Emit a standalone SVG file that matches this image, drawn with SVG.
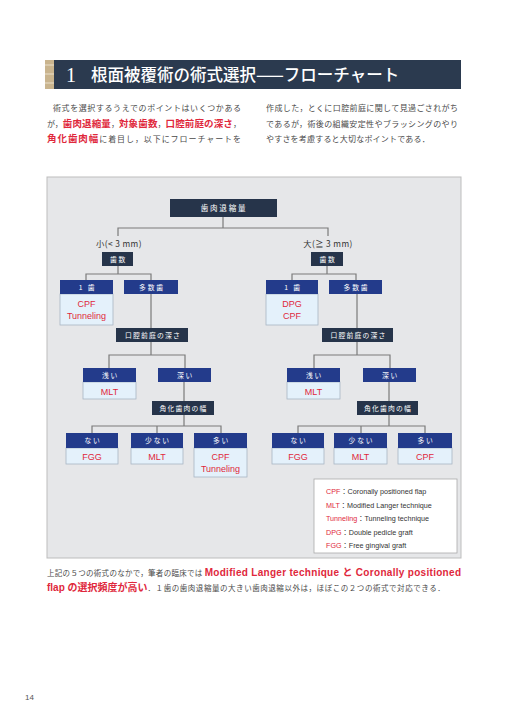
<svg xmlns="http://www.w3.org/2000/svg" width="509" height="720" viewBox="0 0 509 720">
<style>
text{font-family:"Noto Sans CJK JP","Noto Sans",sans-serif}
.para{font-size:8px;fill:#4a4a4a}
.red{fill:#e0283c;font-weight:bold;font-size:9.5px}
.dk{fill:#26344a}
.bl{fill:#233b8b}
.hd{font-size:6.8px;fill:#fff;text-anchor:middle;letter-spacing:1.8px}
.body{fill:#e4f1fb;stroke:#a9b6c4;stroke-width:0.8}
.bt{font-family:"Liberation Sans","Noto Sans",sans-serif;font-size:9px;fill:#e0283c;text-anchor:middle}
.lab{font-size:8.3px;fill:#333;text-anchor:middle;letter-spacing:0.4px}
.conn{fill:none;stroke:#7b7b7b;stroke-width:1.2}
.lg{font-family:"Liberation Sans","Noto Sans CJK JP",sans-serif;font-size:7.2px;fill:#333}
.lr{fill:#e0283c}
</style>
<rect width="509" height="720" fill="#fff"/>
<g id="header">
<rect x="45" y="60" width="9" height="29" fill="#c9b48e"/>
<line x1="45" y1="65" x2="54" y2="65" stroke="#eadfca" stroke-width="1"/>
<line x1="45" y1="74" x2="54" y2="74" stroke="#eadfca" stroke-width="1"/>
<line x1="45" y1="83" x2="54" y2="83" stroke="#eadfca" stroke-width="1"/>
<rect x="54" y="60" width="407" height="29" fill="#2b3a4f"/>
<text x="66" y="82" font-size="20" fill="#fff" style="font-family:'Liberation Serif',serif">1</text>
<text x="91" y="81" font-size="16.5" fill="#fff" font-weight="500">根面被覆術の術式選択——フローチャート</text>
</g>
<g id="intro">
<text class="para" x="53" y="111" textLength="188" lengthAdjust="spacing">術式を選択するうえでのポイントはいくつかある</text>
<text class="para" x="47" y="127" textLength="194" lengthAdjust="spacing">が，<tspan class="red">歯肉退縮量</tspan>，<tspan class="red">対象歯数</tspan>，<tspan class="red">口腔前庭の深さ</tspan>，</text>
<text class="para" x="47" y="142" textLength="194" lengthAdjust="spacing"><tspan class="red">角化歯肉幅</tspan>に着目し，以下にフローチャートを</text>
<text class="para" x="266" y="111" textLength="192" lengthAdjust="spacing">作成した，とくに口腔前庭に関して見過ごされがち</text>
<text class="para" x="266" y="127" textLength="192" lengthAdjust="spacing">であるが，術後の組織安定性やブラッシングのやり</text>
<text class="para" x="266" y="142" style="letter-spacing:0.2px">やすさを考慮すると大切なポイントである．</text>
</g>
<rect id="panel" x="47" y="177" width="414" height="381" fill="#e6e7e9" stroke="#bdbdbd" stroke-width="1"/>
<g id="connectors" class="conn">
<path d="M223,217 V228 M118,236 V228 H328 V236"/>
<path d="M118,266 V274 M86,280 V274 H151 V280"/>
<path d="M151,294 V328 M151,342 V355 M109,368 V355 H185 V368"/>
<path d="M184,382 V401 M184,415 V426 M92,433 V426 H221 V433 M157,426 V433"/>
<path d="M327,266 V274 M292,280 V274 H356 V280"/>
<path d="M357,294 V328 M357,342 V355 M314,368 V355 H390 V368"/>
<path d="M389,382 V401 M389,415 V426 M298,433 V426 H425 V433 M361,426 V433"/>
</g>
<g id="n-recession"><rect class="dk" x="170" y="199" width="107" height="18"/><text class="hd" x="224" y="211" style="font-size:7.5px">歯肉退縮量</text></g>
<g id="lbl-small"><text class="lab" x="119" y="247">小(&lt; 3 mm)</text></g>
<g id="lbl-large"><text class="lab" x="328" y="247">大(≧ 3 mm)</text></g>
<g id="n-teeth-l"><rect class="dk" x="102" y="252" width="31" height="14"/><text class="hd" x="118.5" y="261.5">歯数</text></g>
<g id="n-teeth-r"><rect class="dk" x="311" y="252" width="32" height="14"/><text class="hd" x="328" y="261.5">歯数</text></g>
<g id="n-one-l"><rect class="body" x="60" y="294" width="53" height="31"/><rect class="bl" x="60" y="280" width="53" height="14"/><text class="hd" x="87.5" y="289.5">1 歯</text><text class="bt" x="86.5" y="306.5">CPF</text><text class="bt" x="86.5" y="318.5">Tunneling</text></g>
<g id="n-multi-l"><rect class="bl" x="124" y="280" width="54" height="14"/><text class="hd" x="152" y="289.5">多数歯</text></g>
<g id="n-one-r"><rect class="body" x="266" y="294" width="52" height="31"/><rect class="bl" x="266" y="280" width="52" height="14"/><text class="hd" x="293" y="289.5">1 歯</text><text class="bt" x="292" y="306.5">DPG</text><text class="bt" x="292" y="318.5">CPF</text></g>
<g id="n-multi-r"><rect class="bl" x="329" y="280" width="53" height="14"/><text class="hd" x="356.5" y="289.5">多数歯</text></g>
<g id="n-vest-l"><rect class="dk" x="116" y="328" width="72" height="14"/><text class="hd" x="153" y="337.5" style="letter-spacing:1.2px">口腔前庭の深さ</text></g>
<g id="n-vest-r"><rect class="dk" x="322" y="328" width="71" height="14"/><text class="hd" x="358.5" y="337.5" style="letter-spacing:1.2px">口腔前庭の深さ</text></g>
<g id="n-shallow-l"><rect class="body" x="83" y="382" width="53" height="17"/><rect class="bl" x="83" y="368" width="53" height="14"/><text class="hd" x="110.5" y="377.5">浅い</text><text class="bt" x="109.5" y="394.5">MLT</text></g>
<g id="n-deep-l"><rect class="bl" x="158" y="368" width="53" height="14"/><text class="hd" x="185.5" y="377.5">深い</text></g>
<g id="n-shallow-r"><rect class="body" x="287" y="382" width="53" height="17"/><rect class="bl" x="287" y="368" width="53" height="14"/><text class="hd" x="314.5" y="377.5">浅い</text><text class="bt" x="313.5" y="394.5">MLT</text></g>
<g id="n-deep-r"><rect class="bl" x="363" y="368" width="53" height="14"/><text class="hd" x="390.5" y="377.5">深い</text></g>
<g id="n-kg-l"><rect class="dk" x="152" y="401" width="62" height="14"/><text class="hd" x="183.6" y="410.5" style="letter-spacing:1.2px">角化歯肉の幅</text></g>
<g id="n-kg-r"><rect class="dk" x="357" y="401" width="61" height="14"/><text class="hd" x="388.1" y="410.5" style="letter-spacing:1.2px">角化歯肉の幅</text></g>
<g id="n-none-l"><rect class="body" x="66" y="448" width="52" height="16"/><rect class="bl" x="66" y="433" width="52" height="15"/><text class="hd" x="93" y="443">ない</text><text class="bt" x="92" y="459.5">FGG</text></g>
<g id="n-few-l"><rect class="body" x="131" y="448" width="52" height="16"/><rect class="bl" x="131" y="433" width="52" height="15"/><text class="hd" x="158" y="443">少ない</text><text class="bt" x="157" y="459.5">MLT</text></g>
<g id="n-many-l"><rect class="body" x="194" y="448" width="53" height="29"/><rect class="bl" x="194" y="433" width="53" height="15"/><text class="hd" x="221.5" y="443">多い</text><text class="bt" x="220.5" y="459.5">CPF</text><text class="bt" x="220.5" y="471.5">Tunneling</text></g>
<g id="n-none-r"><rect class="body" x="272" y="448" width="52" height="16"/><rect class="bl" x="272" y="433" width="52" height="15"/><text class="hd" x="299" y="443">ない</text><text class="bt" x="298" y="459.5">FGG</text></g>
<g id="n-few-r"><rect class="body" x="334" y="448" width="53" height="16"/><rect class="bl" x="334" y="433" width="53" height="15"/><text class="hd" x="361.5" y="443">少ない</text><text class="bt" x="360.5" y="459.5">MLT</text></g>
<g id="n-many-r"><rect class="body" x="398" y="448" width="54" height="16"/><rect class="bl" x="398" y="433" width="54" height="15"/><text class="hd" x="426" y="443">多い</text><text class="bt" x="425" y="459.5">CPF</text></g>
<g id="legend">
<rect x="314" y="479" width="143" height="74" fill="#fff" stroke="#aaa" stroke-width="0.8"/>
<text class="lg" x="326" y="494"><tspan class="lr">CPF</tspan>：Coronally positioned flap</text>
<text class="lg" x="326" y="507.5"><tspan class="lr">MLT</tspan>：Modified Langer technique</text>
<text class="lg" x="326" y="521"><tspan class="lr">Tunneling</tspan>：Tunneling technique</text>
<text class="lg" x="326" y="534.5"><tspan class="lr">DPG</tspan>：Double pedicle graft</text>
<text class="lg" x="326" y="548"><tspan class="lr">FGG</tspan>：Free gingival graft</text>
</g>
<g id="summary">
<text class="para" x="47" y="576" textLength="414" lengthAdjust="spacing" style="font-size:7.5px">上記の５つの術式のなかで，筆者の臨床では <tspan class="red" style="font-family:'Liberation Sans','Noto Sans CJK JP',sans-serif;font-size:10px">Modified Langer technique と Coronally positioned</tspan></text>
<text class="para" x="47" y="591" style="font-size:7.5px"><tspan class="red" style="font-family:'Liberation Sans','Noto Sans CJK JP',sans-serif;font-size:10px">flap の選択頻度が高い</tspan><tspan style="letter-spacing:0.55px">．１歯の歯肉退縮量の大きい歯肉退縮以外は，ほぼこの２つの術式で対応できる．</tspan></text>
</g>
<text x="25" y="700" font-size="8" fill="#555" style="font-family:'Liberation Sans',sans-serif">14</text>
</svg>
